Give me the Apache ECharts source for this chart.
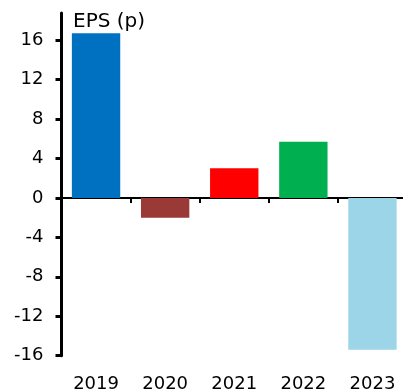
<!DOCTYPE html>
<html>
<head>
<meta charset="utf-8">
<script src="https://cdn.jsdelivr.net/npm/echarts@6/dist/echarts.min.js"></script>
<style>
  html, body { margin: 0; padding: 0; background: #fff; }
  #chart { width: 403px; height: 392px; }
</style>
</head>
<body>
<div id="chart"></div>
<script>
// Earnings per share by year, in pence
const years = ['2019', '2020', '2021', '2022', '2023'];
const eps = [16.7, -2.0, 3.0, 5.7, -15.4];
const barColors = ['#0070C0', '#9A3A37', '#FF0000', '#00B050', '#9CD5E8'];
const yTicks = [-16, -12, -8, -4, 0, 4, 8, 12, 16];

const FONT = 'DejaVu Sans';

const chart = echarts.init(document.getElementById('chart'), null, { renderer: 'canvas' });

chart.setOption({
  animation: false,
  backgroundColor: '#ffffff',
  title: {
    text: 'EPS (p)',
    left: 68,
    top: 7,
    textStyle: { fontFamily: FONT, fontSize: 20, fontWeight: 'normal', color: '#000' }
  },
  // plot area runs slightly past the right edge of the canvas
  grid: {
    left: 61.5, width: 345.5, top: 13, bottom: 36.3,
    containLabel: false, outerBoundsMode: 'none'
  },
  xAxis: [
    {
      type: 'category',
      data: years,
      axisLine: { onZero: true, lineStyle: { color: '#000', width: 2 } },
      axisTick: { show: true, length: 5, inside: false, lineStyle: { color: '#000', width: 2 } },
      axisLabel: { show: false },
      splitLine: { show: false }
    },
    {
      type: 'category',
      data: years,
      position: 'bottom',
      axisLine: { show: false, onZero: false },
      axisTick: { show: false },
      axisLabel: { show: true, margin: 20, fontFamily: FONT, fontSize: 18, color: '#000' },
      splitLine: { show: false }
    }
  ],
  yAxis: {
    type: 'value',
    min: -16,
    max: 18.75,
    interval: 4,
    axisLine: { show: true, lineStyle: { color: '#000', width: 3 } },
    axisTick: { show: true, length: 6, customValues: yTicks, lineStyle: { color: '#000', width: 3 } },
    axisLabel: { show: true, customValues: yTicks, margin: 18, fontFamily: FONT, fontSize: 18, color: '#000' },
    splitLine: { show: false }
  },
  series: [
    {
      type: 'bar',
      xAxisIndex: 0,
      barWidth: '70%',
      data: eps.map((v, i) => ({ value: v, itemStyle: { color: barColors[i] } }))
    }
  ]
});
</script>
</body>
</html>
